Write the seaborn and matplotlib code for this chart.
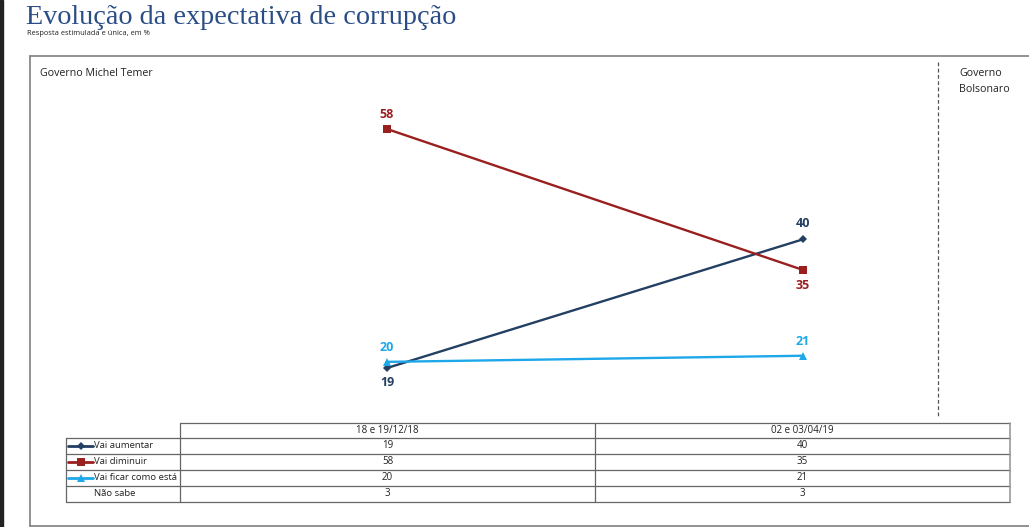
import numpy as np
import pandas as pd
import seaborn as sns
import matplotlib.pyplot as plt
from matplotlib.lines import Line2D

sns.set_theme(style='white')
plt.rcParams['font.family'] = ['Open Sans', 'DejaVu Sans']

# data
periods = ['18 e 19/12/18', '02 e 03/04/19']
series = ['Vai aumentar', 'Vai diminuir', 'Vai ficar como está', 'Não sabe']
aumentar = [19, 40]
diminuir = [58, 35]
ficar = [20, 21]
nao_sabe = [3, 3]

colors = {'Vai aumentar': '#233f62', 'Vai diminuir': '#9a1f1f', 'Vai ficar como está': '#1ea8ea'}
markers = {'Vai aumentar': 'D', 'Vai diminuir': 's', 'Vai ficar como está': '^'}
msize = {'Vai aumentar': 4.5, 'Vai diminuir': 6, 'Vai ficar como está': 6}

df = pd.DataFrame({
    'x': [0, 1] * 3,
    'valor': aumentar + diminuir + ficar,
    'serie': ['Vai aumentar'] * 2 + ['Vai diminuir'] * 2 + ['Vai ficar como está'] * 2,
})

W, H = 1029, 527
fig = plt.figure(figsize=(W / 100, H / 100), dpi=100)

def fx(px):
    return px / W

def fy(py):
    return 1 - py / H

# invisible axes over whole figure, scaled so points land where they belong
ax = fig.add_axes([0, 0, 1, 1])
x0, x1 = 387, 803
ppx = (x1 - x0)
ax.set_xlim(-x0 / ppx, (W - x0) / ppx)
ppy = (368 - 129) / (58 - 19)
ax.set_ylim(58 - (H - 129) / ppy, 58 + 129 / ppy)
ax.axis('off')

for name in ['Vai aumentar', 'Vai diminuir', 'Vai ficar como está']:
    d = df[df['serie'] == name]
    sns.lineplot(data=d, x='x', y='valor', ax=ax, color=colors[name], linewidth=1.7,
                 marker=markers[name], markersize=msize[name], markeredgewidth=0,
                 legend=False)

label_off = {'Vai aumentar': [-15, 16], 'Vai diminuir': [14, -16], 'Vai ficar como está': [14, 14]}
for name, vals in [('Vai aumentar', aumentar), ('Vai diminuir', diminuir), ('Vai ficar como está', ficar)]:
    for i, v in enumerate(vals):
        ax.annotate(str(v), (i, v), xytext=(0, label_off[name][i]), textcoords='offset pixels',
                    ha='center', va='center', fontsize=9, fontweight='bold', color=colors[name])

# title
fig.text(fx(26), fy(18), 'Evolução da expectativa de corrupção', fontsize=20.3,
         family='Liberation Serif', color='#2b4d86', va='center', ha='left')
fig.text(fx(27), fy(34), 'Resposta estimulada e única, em %', fontsize=5.4, color='#222222',
         va='center', ha='left')

# frame
def hline(y, xa, xb, **kw):
    fig.add_artist(Line2D([fx(xa), fx(xb)], [fy(y), fy(y)], **kw))

def vline(x, ya, yb, **kw):
    fig.add_artist(Line2D([fx(x), fx(x)], [fy(ya), fy(yb)], **kw))

frame = dict(color='#7f7f7f', linewidth=1.2)
hline(56, 30, 1029, **frame)
hline(526, 30, 1029, **frame)
vline(30, 56, 526, **frame)
fig.add_artist(plt.Rectangle((0, 0), fx(3), 1, color='#222222', transform=fig.transFigure))

vline(938, 62, 418, color='#555555', linewidth=0.9, linestyle=(0, (3, 2)))

fig.text(fx(40), fy(74), 'Governo Michel Temer', fontsize=7.7, color='#222222', va='center')
fig.text(fx(959), fy(74), 'Governo', fontsize=7.7, color='#222222', va='center')
fig.text(fx(959), fy(89), 'Bolsonaro', fontsize=7.7, color='#222222', va='center')

# table
grid = dict(color='#666666', linewidth=0.9)
rows_y = [423, 438, 454, 470, 486, 502]
hline(423, 180, 1010, **grid)
for y in rows_y[1:]:
    hline(y, 66, 1010, **grid)
vline(66, 438, 502, **grid)
vline(180, 423, 502, **grid)
vline(595, 423, 502, **grid)
vline(1010, 423, 502, color='#999999', linewidth=1.2)

col_c = [387.5, 802.5]
for j, p in enumerate(periods):
    fig.text(fx(col_c[j]), fy(430.5), p, fontsize=7, ha='center', va='center', color='#222222')

table_vals = [aumentar, diminuir, ficar, nao_sabe]
for i, name in enumerate(series):
    yc = (rows_y[i + 1] + rows_y[i + 2]) / 2
    if name in colors:
        fig.add_artist(Line2D([fx(68), fx(93)], [fy(yc), fy(yc)], color=colors[name], linewidth=2))
        fig.add_artist(Line2D([fx(80.5)], [fy(yc)], color=colors[name], marker=markers[name],
                              markersize=msize[name], markeredgewidth=0))
    fig.text(fx(94), fy(yc), name, fontsize=6.8, ha='left', va='center', color='#222222')
    for j in range(2):
        fig.text(fx(col_c[j]), fy(yc), str(table_vals[i][j]), fontsize=7, ha='center',
                 va='center', color='#222222')

fig.savefig('out.png', dpi=100)
